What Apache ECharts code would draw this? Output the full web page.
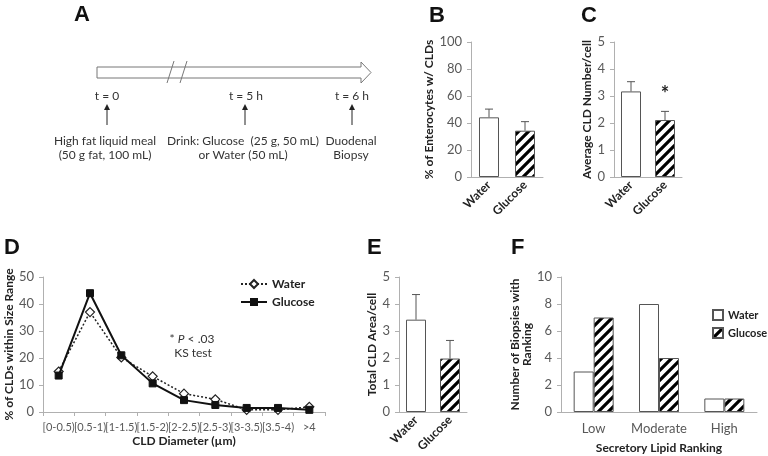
<!DOCTYPE html>
<html><head><meta charset="utf-8">
<script src="https://cdn.jsdelivr.net/npm/echarts@6/dist/echarts.min.js"></script>
<style>html,body{margin:0;padding:0;background:#fff}#c{width:768px;height:456px}</style>
</head><body><div id="c"></div>
<script>
// ---- data ----
const groups = ['Water', 'Glucose'];
const bMean = [44.2, 34.3];
const bUpper = [50.3, 41.0];
const cMean = [3.17, 2.11];
const cUpper = [3.53, 2.43];
const eMean = [3.42, 1.98];
const eUpper = [4.35, 2.65];
const dCats = ['[0-0.5)', '[0.5-1)', '[1-1.5)', '[1.5-2)', '[2-2.5)', '[2.5-3)', '[3-3.5)', '[3.5-4)', '>4'];
const dWater = [15, 37, 20.2, 13.2, 6.8, 4.7, 0.8, 0.8, 1.9];
const dGlucose = [13.5, 44, 21, 10.6, 4.4, 2.6, 1.5, 1.5, 0.8];
const fCats = ['Low', 'Moderate', 'High'];
const fWater = [3, 8, 1];
const fGlucose = [7, 4, 1];
const bTicks = [0, 100, 20];
const cTicks = [0, 5, 1];
const dTicks = [0, 50, 10];
const fTicks = [0, 10, 2];

// ---- hatch pattern ----
function hatch() {
  const s = 10, cv = document.createElement('canvas');
  cv.width = s; cv.height = s;
  const g = cv.getContext('2d');
  g.fillStyle = '#fff'; g.fillRect(0, 0, s, s);
  g.strokeStyle = '#000'; g.lineWidth = 3.2; g.lineCap = 'square';
  g.beginPath();
  g.moveTo(-2, s + 2); g.lineTo(s + 2, -2);
  g.moveTo(-s / 2 - 2, s / 2 + 2); g.lineTo(s / 2 + 2, -s / 2 - 2);
  g.moveTo(s / 2 - 2, s * 1.5 + 2); g.lineTo(s * 1.5 + 2, s / 2 - 2);
  g.stroke();
  return cv;
}
const HATCH = { image: hatch(), repeat: 'repeat' };
const FONT = 'Lato';
const tickLbl = { color: '#595959', fontSize: 13, fontFamily: FONT };
const nameTs = { color: '#222', fontSize: 12, fontWeight: 'bold', fontFamily: FONT };
const axLine = { lineStyle: { color: '#b0b0b0', width: 1 } };

function yAx(gi, t, name, gap) {
  return {
    gridIndex: gi, type: 'value', min: t[0], max: t[1], interval: t[2],
    axisLine: Object.assign({ show: true }, axLine),
    axisTick: { show: true, length: 4, lineStyle: { color: '#b0b0b0' } },
    splitLine: { show: false }, axisLabel: Object.assign({ margin: 9 }, tickLbl),
    name: name, nameLocation: 'middle', nameGap: gap, nameTextStyle: nameTs
  };
}
function xRot(gi) {
  return {
    gridIndex: gi, type: 'category', data: groups,
    axisLine: axLine, axisTick: { show: false },
    axisLabel: { rotate: 45, interval: 0, color: '#222', fontSize: 12, fontWeight: 'bold', fontFamily: FONT, margin: 6 }
  };
}
function barPair(xi, means) {
  return {
    type: 'bar', xAxisIndex: xi, yAxisIndex: xi, barWidth: 20,
    data: means.map((v, i) => ({
      value: v,
      itemStyle: { color: i === 0 ? '#fff' : HATCH, borderColor: '#555', borderWidth: 1 }
    })),
    silent: true
  };
}
function errBars(xi, means, uppers) {
  return {
    type: 'custom', xAxisIndex: xi, yAxisIndex: xi, silent: true, z: 1,
    encode: { x: 0, y: [1, 2] },
    data: means.map((m, i) => [i, m, uppers[i]]),
    renderItem: function (params, api) {
      const lo = api.coord([api.value(0), api.value(1)]);
      const hi = api.coord([api.value(0), api.value(2)]);
      const w = 4;
      const st = { stroke: '#555', lineWidth: 1, fill: null };
      return { type: 'group', children: [
        { type: 'line', shape: { x1: lo[0], y1: lo[1], x2: hi[0], y2: hi[1] }, style: st },
        { type: 'line', shape: { x1: hi[0] - w, y1: hi[1], x2: hi[0] + w, y2: hi[1] }, style: st }
      ]};
    }
  };
}

const chart = echarts.init(document.getElementById('c'), null, { renderer: 'canvas' });

const panelLbl = (t, x, y) => ({ type: 'text', left: x, top: y, style: { text: t, font: 'bold 22px "Liberation Sans", Arial', fill: '#111' } });
const txt = (t, x, y, extra) => ({ type: 'text', x: x, y: y, style: Object.assign({ text: t, fontFamily: FONT, fontSize: 12, fill: '#333', align: 'center', verticalAlign: 'middle' }, extra || {}) });
const upArrow = (x) => ({ type: 'group', children: [
  { type: 'line', shape: { x1: x, y1: 125, x2: x, y2: 109 }, style: { stroke: '#222', lineWidth: 1 } },
  { type: 'polygon', shape: { points: [[x - 3, 110], [x + 3, 110], [x, 104]] }, style: { fill: '#222' } }
]});

const option = {
  animation: false,
  textStyle: { fontFamily: FONT },
  grid: [
    { left: 471, top: 42, width: 72, height: 135 },
    { left: 614, top: 42, width: 68, height: 135 },
    { left: 43, top: 277, width: 282, height: 135 },
    { left: 399, top: 277, width: 68, height: 135 },
    { left: 561, top: 277, width: 196, height: 135 }
  ],
  xAxis: [
    xRot(0), xRot(1),
    { gridIndex: 2, type: 'category', data: dCats, axisLine: axLine,
      axisTick: { show: true, length: 4, lineStyle: { color: '#b0b0b0' } },
      axisLabel: Object.assign({}, tickLbl, { margin: 10, interval: 0, fontSize: 11 }),
      name: 'CLD Diameter (µm)', nameLocation: 'middle', nameGap: 23, nameTextStyle: nameTs },
    xRot(3),
    { gridIndex: 4, type: 'category', data: fCats, axisLine: axLine, axisTick: { show: false },
      axisLabel: Object.assign({}, tickLbl, { margin: 10, interval: 0 }),
      name: 'Secretory Lipid Ranking', nameLocation: 'middle', nameGap: 30, nameTextStyle: nameTs }
  ],
  yAxis: [
    yAx(0, bTicks, '% of Enterocytes w/ CLDs', 27),
    yAx(1, cTicks, 'Average CLD Number/cell', 21),
    yAx(2, dTicks, '% of CLDs within Size Range', 24),
    yAx(3, cTicks, 'Total CLD Area/cell', 19),
    yAx(4, fTicks, 'Number of Biopsies with\nRanking', 16)
  ],
  legend: [
    { orient: 'vertical', left: 240, top: 278, padding: 0, itemWidth: 26, itemHeight: 10, itemGap: 6,
      data: ['Water', 'Glucose'].map(n => n + ' '),
      textStyle: { fontSize: 12, fontWeight: 'bold', color: '#222', fontFamily: FONT }, selectedMode: false },
    { orient: 'vertical', left: 712, top: 309, padding: 0, itemWidth: 10, itemHeight: 10, itemGap: 6,
      icon: 'rect',
      data: ['Water', 'Glucose'],
      textStyle: { fontSize: 11, fontWeight: 'bold', color: '#222', fontFamily: FONT }, selectedMode: false }
  ],
  series: [
    barPair(0, bMean), errBars(0, bMean, bUpper),
    barPair(1, cMean), errBars(1, cMean, cUpper),
    barPair(3, eMean), errBars(3, eMean, eUpper),
    { name: 'Water ', type: 'line', xAxisIndex: 2, yAxisIndex: 2, data: dWater,
      symbol: 'diamond', symbolSize: 9, z: 3,
      lineStyle: { color: '#222', width: 1.5, type: [2, 2] },
      itemStyle: { color: '#fff', borderColor: '#222', borderWidth: 1.2 } },
    { name: 'Glucose ', type: 'line', xAxisIndex: 2, yAxisIndex: 2, data: dGlucose,
      symbol: 'rect', symbolSize: 7, z: 4,
      lineStyle: { color: '#111', width: 2 },
      itemStyle: { color: '#111', borderColor: '#111' } },
    { name: 'Water', type: 'bar', xAxisIndex: 4, yAxisIndex: 4, data: fWater, barWidth: 20, barGap: '0%',
      itemStyle: { color: '#fff', borderColor: '#555', borderWidth: 1 } },
    { name: 'Glucose', type: 'bar', xAxisIndex: 4, yAxisIndex: 4, data: fGlucose, barWidth: 20, barGap: '0%',
      itemStyle: { color: HATCH, borderColor: '#555', borderWidth: 1 } }
  ],
  graphic: [
    panelLbl('A', 74, 4), panelLbl('B', 429, 5), panelLbl('C', 581, 5),
    panelLbl('D', 4, 237), panelLbl('E', 367, 237), panelLbl('F', 511, 237),
    { type: 'polygon', shape: { points: [[97, 67], [361, 67], [361, 62], [371, 72.5], [361, 83], [361, 78], [97, 78]] },
      style: { fill: '#fff', stroke: '#777', lineWidth: 1 } },
    { type: 'line', shape: { x1: 167, y1: 83, x2: 174, y2: 61 }, style: { stroke: '#777', lineWidth: 1 } },
    { type: 'line', shape: { x1: 180, y1: 83, x2: 187, y2: 61 }, style: { stroke: '#777', lineWidth: 1 } },
    txt('t = 0', 107, 96), txt('t = 5 h', 246, 96), txt('t = 6 h', 352, 96),
    upArrow(107), upArrow(245), upArrow(352),
    txt('High fat liquid meal', 105, 141), txt('(50 g fat, 100 mL)', 105, 155),
    txt('Drink: Glucose  (25 g, 50 mL)', 243, 141), txt('or Water (50 mL)', 243, 155),
    txt('Duodenal', 351, 141), txt('Biopsy', 351, 155),
    txt('*', 665, 95, { fontSize: 20, fontWeight: 'bold', fill: '#222' }),
    { type: 'text', x: 192, y: 339, style: { text: '* {i|P} < .03', fontFamily: FONT, fontSize: 12, fill: '#333', align: 'center', verticalAlign: 'middle',
      rich: { i: { fontStyle: 'italic', fontFamily: FONT, fontSize: 12, fill: '#333' } } } },
    txt('KS test', 193, 353)
  ]
};
chart.setOption(option);
</script></body></html>
